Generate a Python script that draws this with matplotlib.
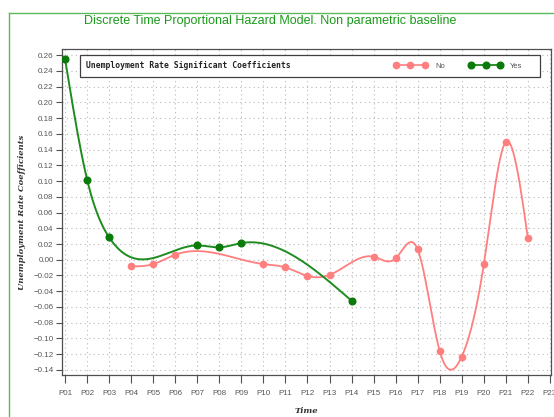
import numpy as np
import matplotlib
matplotlib.use("Agg")
import matplotlib.pyplot as plt
from matplotlib.lines import Line2D
from matplotlib.patches import Rectangle

# ---------------- data ----------------
period_labels = ["P%02d" % i for i in range(1, 24)]

no_periods = [4, 5, 6, 10, 11, 12, 13, 15, 16, 17, 18, 19, 20, 21, 22]
no_values = [-0.0085, -0.0055, 0.0064, -0.0055, -0.0097, -0.0206, -0.0193,
             0.0038, 0.0017, 0.0131, -0.1160, -0.1230, -0.0060, 0.1495, 0.0275]

yes_periods = [1, 2, 3, 7, 8, 9, 14]
yes_values = [0.2546, 0.1017, 0.0284, 0.0182, 0.0157, 0.0212, -0.0521]

y_ticks = [round(v, 2) for v in np.arange(-0.14, 0.2601, 0.02)]

title = "Discrete Time Proportional Hazard Model. Non parametric baseline"
legend_title = "Unemployment Rate Significant Coefficients"


def natural_spline(x, y, n=400):
    x = np.asarray(x, float)
    y = np.asarray(y, float)
    k = len(x)
    h = np.diff(x)
    A = np.zeros((k, k))
    b = np.zeros(k)
    A[0, 0] = 1
    A[-1, -1] = 1
    for i in range(1, k - 1):
        A[i, i - 1] = h[i - 1]
        A[i, i] = 2 * (h[i - 1] + h[i])
        A[i, i + 1] = h[i]
        b[i] = 6 * ((y[i + 1] - y[i]) / h[i] - (y[i] - y[i - 1]) / h[i - 1])
    M = np.linalg.solve(A, b)
    xs = np.linspace(x[0], x[-1], n)
    idx = np.clip(np.searchsorted(x, xs) - 1, 0, k - 2)
    x0, x1 = x[idx], x[idx + 1]
    hh = x1 - x0
    ys = (M[idx] * (x1 - xs) ** 3 / (6 * hh) + M[idx + 1] * (xs - x0) ** 3 / (6 * hh)
          + (y[idx] / hh - M[idx] * hh / 6) * (x1 - xs)
          + (y[idx + 1] / hh - M[idx + 1] * hh / 6) * (xs - x0))
    return xs, ys


RED = "#ff7f7f"
GREEN = "#1e8c1e"
GREEN_M = "#0a7a0a"

fig = plt.figure(figsize=(5.54, 4.17), dpi=100)
ax = fig.add_axes([62 / 554, 1 - 375 / 417, 489 / 554, 326 / 417])

# outer green frame
fig.add_artist(Line2D([9 / 554, 9 / 554], [0, 1 - 13 / 417], transform=fig.transFigure,
                      color="#5cb85c", lw=1.0))
fig.add_artist(Line2D([9 / 554, 1], [1 - 13 / 417, 1 - 13 / 417], transform=fig.transFigure,
                      color="#5cb85c", lw=1.0))

fig.text(270 / 554, 1 - 21 / 417, title, ha="center", va="center", color="#1a9a1a",
         fontsize=9, family="Liberation Sans")

# curves
xs, ys = natural_spline(no_periods, no_values)
ax.plot(xs, ys, color=RED, lw=1.3, zorder=3)
ax.plot(no_periods, no_values, "o", color=RED, ms=4.5, zorder=4, label="No")
xs, ys = natural_spline(yes_periods, yes_values)
ax.plot(xs, ys, color=GREEN, lw=1.4, zorder=3)
ax.plot(yes_periods, yes_values, "o", color=GREEN_M, ms=4.8, zorder=4, label="Yes")

ax.set_xlim(0.86, 23.05)
ax.set_ylim(-0.1464, 0.2677)
ax.set_xticks(range(1, 24))
ax.set_xticklabels(period_labels)
ax.set_yticks(y_ticks)
ax.set_yticklabels(["%.2f" % v if v >= 0 else "\u2212%.2f" % abs(v) for v in y_ticks])

ax.grid(True, color="#b8b8b8", linestyle=(0, (1, 3)), lw=0.8)
ax.set_axisbelow(True)
for s in ax.spines.values():
    s.set_color("#505050")
    s.set_linewidth(0.9)
ax.tick_params(axis="y", direction="out", length=4, width=0.8, color="#505050",
               labelsize=5.8, labelcolor="#555555", pad=2)
ax.tick_params(axis="x", direction="out", length=6, width=0.8, color="#505050",
               labelsize=5.8, labelcolor="#555555", pad=5)
for lab in ax.get_xticklabels() + ax.get_yticklabels():
    lab.set_family("Liberation Sans")

ax.set_ylabel("Unemployment Rate Coefficients", fontsize=6, family="DejaVu Serif",
              style="italic", weight="bold", color="#333333", labelpad=5)
ax.set_xlabel("Time", fontsize=6, family="DejaVu Serif", style="italic",
              weight="bold", color="#333333", labelpad=7)

# legend box
bx0 = (80 - 62) / 489
bx1 = (540 - 62) / 489
by0 = (375 - 77) / 326
by1 = (375 - 55) / 326
ax.add_patch(Rectangle((bx0, by0), bx1 - bx0, by1 - by0, transform=ax.transAxes,
                       facecolor="white", edgecolor="#404040", lw=0.9, zorder=5))
ax.text(bx0 + 0.013, (by0 + by1) / 2, legend_title, transform=ax.transAxes,
        ha="left", va="center", fontsize=5.8, family="DejaVu Sans Mono",
        weight="bold", color="#222222", zorder=6)
leg = ax.legend(loc="center left", bbox_to_anchor=(0.672, (by0 + by1) / 2), ncol=2,
                numpoints=3, frameon=False, fontsize=5.5, handlelength=4.4,
                columnspacing=3.2, handletextpad=1.0, borderaxespad=0)
for line in leg.get_lines():
    line.set_linestyle("-")
    line.set_linewidth(1.2)
for t in leg.get_texts():
    t.set_color("#555555")
    t.set_family("Liberation Sans")
leg.set_zorder(7)

fig.savefig("out.png", dpi=100)
